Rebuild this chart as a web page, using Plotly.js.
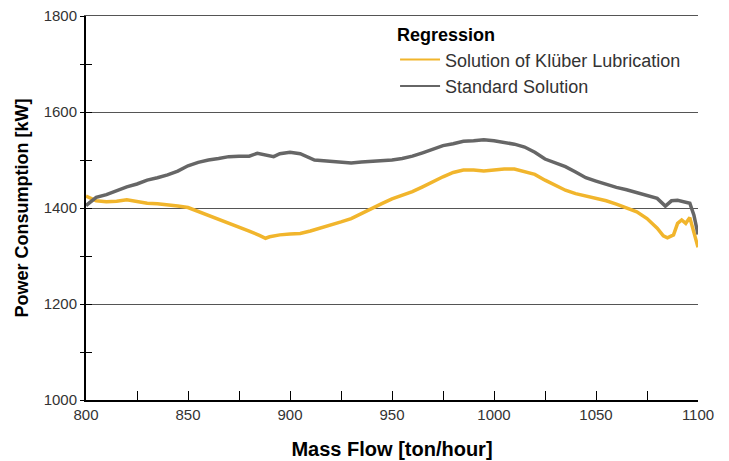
<!DOCTYPE html>
<html>
<head>
<meta charset="utf-8">
<script src="https://cdn.plot.ly/plotly-3.0.1.min.js"></script>
<style>html,body{margin:0;padding:0;background:#fff;}#chart{width:729px;height:461px;}</style>
</head>
<body>
<div id="chart"></div>
<script>
// Mass flow [ton/hour]
const kluberX = [800,805,810,815,820,825,830,835,840,845,850,855,860,865,870,875,880,885,888,890,895,900,905,910,915,920,925,930,935,940,945,950,955,960,965,970,975,980,985,990,995,1000,1005,1010,1015,1020,1025,1030,1035,1040,1045,1050,1055,1060,1065,1070,1075,1080,1083,1085,1088,1090,1092,1094,1096,1097.5,1099,1100];
// Power consumption [kW] - Solution of Klüber Lubrication
const kluberY = [1425,1415,1413,1414,1417,1414,1410,1409,1407,1404,1401,1393,1385,1377,1369,1361,1352,1343,1337,1340,1344,1346,1347,1352,1358,1365,1371,1378,1389,1400,1409,1419,1427,1434,1444,1455,1465,1474,1479,1479,1477,1479,1481,1481,1476,1470,1458,1447,1437,1430,1425,1421,1415,1408,1400,1392,1378,1358,1342,1338,1344,1368,1375,1368,1380,1355,1330,1318];

const standardX = [800,805,810,815,820,825,830,835,840,845,850,855,860,865,870,875,880,884,888,892,895,900,905,908,912,918,925,930,935,940,945,950,955,960,965,970,975,980,985,990,995,1000,1005,1010,1015,1020,1025,1030,1035,1040,1045,1050,1055,1060,1065,1070,1075,1080,1084,1087,1090,1093,1096,1098,1099,1100];
// Power consumption [kW] - Standard Solution
const standardY = [1405,1422,1428,1436,1444,1450,1458,1463,1469,1477,1488,1495,1500,1503,1507,1508,1508,1514,1510,1507,1513,1516,1513,1507,1500,1498,1496,1494,1496,1497,1498,1500,1503,1508,1515,1523,1530,1534,1539,1540,1542,1540,1536,1533,1527,1516,1502,1494,1486,1475,1463,1456,1449,1443,1438,1432,1427,1420,1404,1415,1416,1413,1410,1385,1360,1345];

const seriesNames = ['Solution of Klüber Lubrication', 'Standard Solution'];
const seriesColors = ['#F1B52C', '#666666'];
const legendTitle = 'Regression';
const xTitle = 'Mass Flow [ton/hour]';
const yTitle = 'Power Consumption [kW]';

const traces = [
  {x: kluberX, y: kluberY, type: 'scatter', mode: 'lines', name: seriesNames[0], showlegend: false,
   line: {color: seriesColors[0], width: 3.5}},
  {x: standardX, y: standardY, type: 'scatter', mode: 'lines', name: seriesNames[1], showlegend: false,
   line: {color: seriesColors[1], width: 3.5}},
  {x: [null], y: [null], type: 'scatter', mode: 'lines', name: seriesNames[0], line: {color: seriesColors[0], width: 2}},
  {x: [null], y: [null], type: 'scatter', mode: 'lines', name: seriesNames[1], line: {color: seriesColors[1], width: 2}},
  {x: [null], y: [null], type: 'scatter', mode: 'lines', yaxis: 'y2', showlegend: false, hoverinfo: 'skip'},
  {x: [null], y: [null], type: 'scatter', mode: 'lines', xaxis: 'x2', showlegend: false, hoverinfo: 'skip'}
];

const tickFont = {family: 'Liberation Sans, Arial, sans-serif', size: 15, color: '#333333'};

const layout = {
  width: 729, height: 461,
  margin: {l: 86, r: 31, t: 16, b: 61},
  paper_bgcolor: '#ffffff', plot_bgcolor: '#ffffff',
  xaxis: {
    range: [800, 1100], dtick: 50, tick0: 800,
    showgrid: false, zeroline: false,
    showline: true, linecolor: '#000000', linewidth: 2,
    ticks: 'inside', ticklen: 9, tickcolor: '#000000', tickwidth: 1,
    minor: {dtick: 25, ticks: 'inside', ticklen: 9, tickcolor: '#000000', tickwidth: 1},
    tickfont: tickFont,
    title: {text: xTitle, font: {family: 'Liberation Sans, Arial, sans-serif', size: 20, color: '#000000', weight: 'bold'}, standoff: 20}
  },
  xaxis2: {
    overlaying: 'x', side: 'top', range: [800, 1100],
    showgrid: false, zeroline: false, showticklabels: false, ticks: '',
    showline: true, linecolor: '#555555', linewidth: 1
  },
  yaxis: {
    range: [1000, 1800], dtick: 200, tick0: 1000,
    showgrid: true, gridcolor: '#555555', gridwidth: 1, zeroline: false,
    showline: true, linecolor: '#000000', linewidth: 2,
    ticks: 'outside', ticklen: 4, tickcolor: '#000000', tickwidth: 1,
    minor: {dtick: 100, ticks: 'outside', ticklen: 4, tickcolor: '#000000', tickwidth: 1},
    tickfont: tickFont,
    title: {text: yTitle, font: {family: 'Liberation Sans, Arial, sans-serif', size: 18, color: '#000000', weight: 'bold'}, standoff: 10}
  },
  yaxis2: {
    overlaying: 'y', side: 'left', range: [1000, 1800], dtick: 200, tick0: 1000,
    showgrid: false, zeroline: false, showline: false, showticklabels: false,
    ticks: 'inside', ticklen: 6, tickcolor: '#000000', tickwidth: 1,
    minor: {dtick: 100, ticks: 'inside', ticklen: 6, tickcolor: '#000000', tickwidth: 1}
  },
  legend: {
    x: 0.505, xanchor: 'left', y: 0.995, yanchor: 'top',
    bgcolor: 'rgba(255,255,255,0)',
    font: {family: 'Liberation Sans, Arial, sans-serif', size: 18, color: '#333333'},
    title: {text: legendTitle, font: {family: 'Liberation Sans, Arial, sans-serif', size: 18, color: '#000000', weight: 'bold'}},
    itemwidth: 40, tracegroupgap: 0
  },
  showlegend: true
};

Plotly.newPlot('chart', traces, layout, {displayModeBar: false, staticPlot: true});
</script>
</body>
</html>
